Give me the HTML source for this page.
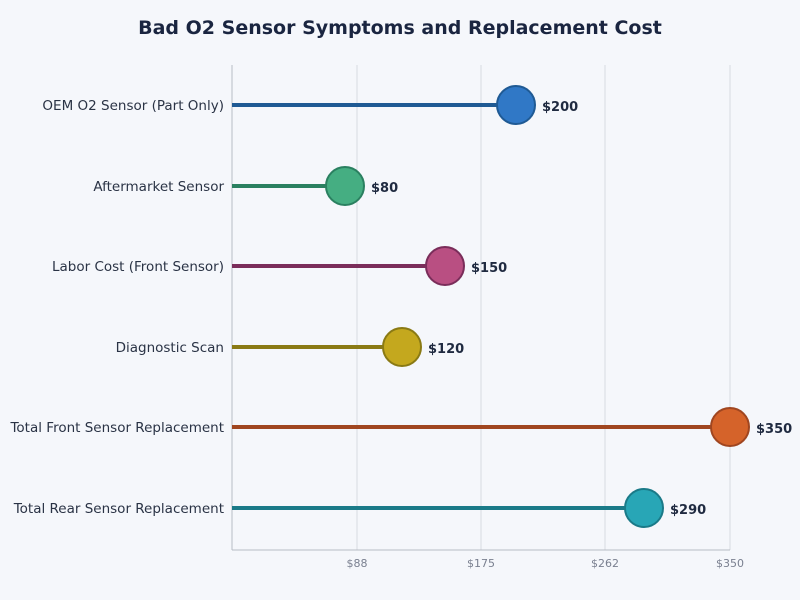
<!DOCTYPE html>
<html><head><meta charset="utf-8"><style>
html,body{margin:0;padding:0;background:#f5f7fb;}
svg{display:block;font-family:"DejaVu Sans","Liberation Sans",sans-serif;}
</style></head><body>
<svg width="800" height="600" viewBox="0 0 800 600">
<rect width="800" height="600" fill="#f5f7fb"/>
<text x="400" y="34" text-anchor="middle" font-size="19" font-weight="bold" fill="#1a2540">Bad O2 Sensor Symptoms and Replacement Cost</text>
<g stroke="#d8dbe0" stroke-width="1">
<line x1="357" y1="65" x2="357" y2="550"/>
<line x1="481" y1="65" x2="481" y2="550"/>
<line x1="605" y1="65" x2="605" y2="550"/>
<line x1="730" y1="65" x2="730" y2="550"/>
</g>
<line x1="232" y1="65" x2="232" y2="550" stroke="#b8bcc4" stroke-width="1"/>
<line x1="232" y1="550" x2="730" y2="550" stroke="#b8bcc4" stroke-width="1"/>
<g font-size="11" fill="#7a8090" text-anchor="middle">
<text x="357" y="567">$88</text><text x="481" y="567">$175</text><text x="605" y="567">$262</text><text x="730" y="567">$350</text>
</g>
<g font-size="13.5" fill="#2a3345" text-anchor="end">
<text x="224" y="110">OEM O2 Sensor (Part Only)</text>
<text x="224" y="191">Aftermarket Sensor</text>
<text x="224" y="271">Labor Cost (Front Sensor)</text>
<text x="224" y="352">Diagnostic Scan</text>
<text x="224" y="432">Total Front Sensor Replacement</text>
<text x="224" y="513">Total Rear Sensor Replacement</text>
</g>
<g stroke-width="4">
<line x1="232" y1="105" x2="516" y2="105" stroke="#1f5a94"/>
<line x1="232" y1="186" x2="345" y2="186" stroke="#2a8060"/>
<line x1="232" y1="266" x2="445" y2="266" stroke="#7a2d5a"/>
<line x1="232" y1="347" x2="402" y2="347" stroke="#8a7a14"/>
<line x1="232" y1="427" x2="730" y2="427" stroke="#a04620"/>
<line x1="232" y1="508" x2="644" y2="508" stroke="#1a7a88"/>
</g>
<g stroke-width="2">
<circle cx="516" cy="105" r="19" fill="#3078c6" stroke="#1f5a94"/>
<circle cx="345" cy="186" r="19" fill="#45ae82" stroke="#2a8060"/>
<circle cx="445" cy="266" r="19" fill="#b94f82" stroke="#7a2d5a"/>
<circle cx="402" cy="347" r="19" fill="#c4a81e" stroke="#8a7a14"/>
<circle cx="730" cy="427" r="19" fill="#d5632a" stroke="#a04620"/>
<circle cx="644" cy="508" r="19" fill="#28a6b6" stroke="#1a7a88"/>
</g>
<g font-size="13" font-weight="bold" fill="#1f2a40">
<text x="542" y="111">$200</text>
<text x="371" y="192">$80</text>
<text x="471" y="272">$150</text>
<text x="428" y="353">$120</text>
<text x="756" y="433">$350</text>
<text x="670" y="514">$290</text>
</g>
</svg>
</body></html>
